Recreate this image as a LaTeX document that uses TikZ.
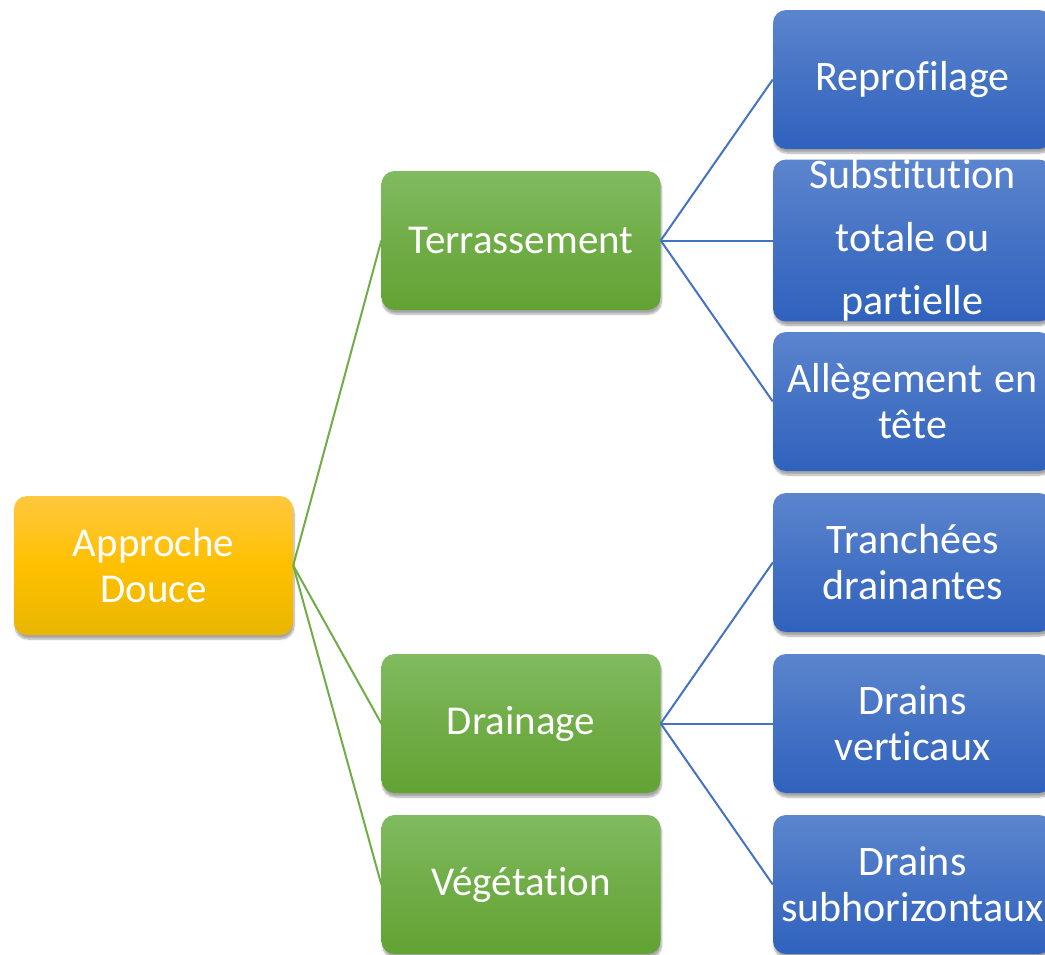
\documentclass[tikz,border=0pt]{standalone}
\usepackage{fontspec}
\setmainfont[Ligatures={NoCommon}]{Carlito}
\usetikzlibrary{shadows.blur}
\definecolor{ytop}{RGB}{255,200,62}
\definecolor{ymid}{RGB}{255,192,0}
\definecolor{ybot}{RGB}{232,182,0}
\definecolor{gtop}{RGB}{128,187,96}
\definecolor{gmid}{RGB}{112,173,71}
\definecolor{gbot}{RGB}{98,163,52}
\definecolor{btop}{RGB}{92,133,206}
\definecolor{bmid}{RGB}{68,114,196}
\definecolor{bbot}{RGB}{48,98,190}
\definecolor{gline}{RGB}{112,173,71}
\definecolor{bline}{RGB}{68,114,196}
\tikzset{
  box/.style={rounded corners=13pt, inner sep=0pt, minimum width=279pt, minimum height=139pt,
    align=center, text=white, font=\fontsize{41}{46}\selectfont,
    blur shadow={shadow xshift=1pt, shadow yshift=-4pt, shadow blur steps=8, shadow opacity=35}},
  rootbox/.style={box, top color=ytop, bottom color=ybot, middle color=ymid},
  midbox/.style={box, top color=gtop, bottom color=gbot, middle color=gmid},
  leafbox/.style={box, top color=btop, bottom color=bbot, middle color=bmid, font=\fontsize{42}{46}\selectfont},
  gconn/.style={draw=gline, line width=2pt},
  bconn/.style={draw=bline, line width=2pt},
}
\begin{document}
\begin{tikzpicture}[x=1pt,y=-1pt]
\useasboundingbox (0,0) rectangle (1045,954);
\node[rootbox] (AD) at (153.5,565.5) {Approche\\Douce};
\node[midbox] (T) at (521,240.5) {Terrassement};
\node[midbox] (D) at (521,723.5) {Drainage};
\node[midbox] (V) at (521,884.5) {Végétation};
\node[leafbox] (R) at (912.5,79.5) {Reprofilage};
\node[leafbox, font=\fontsize{42}{63}\selectfont] (S) at (912.5,240.5) {Substitution\\totale ou\\partielle};
\node[leafbox] (A) at (912.5,401.5) {Allègement\hspace{3pt} en\\tête};
\node[leafbox] (Tr) at (912.5,562.5) {Tranchées\\drainantes};
\node[leafbox] (DV) at (912.5,723.5) {Drains\\verticaux};
\node[leafbox] (DS) at (912.5,884.5) {Drains\\subhorizontaux};
\draw[gconn] (AD.east) -- (T.west);
\draw[gconn] (AD.east) -- (D.west);
\draw[gconn] (AD.east) -- (V.west);
\draw[bconn] (T.east) -- (R.west);
\draw[bconn] (T.east) -- (S.west);
\draw[bconn] (T.east) -- (A.west);
\draw[bconn] (D.east) -- (Tr.west);
\draw[bconn] (D.east) -- (DV.west);
\draw[bconn] (D.east) -- (DS.west);
\end{tikzpicture}
\end{document}
